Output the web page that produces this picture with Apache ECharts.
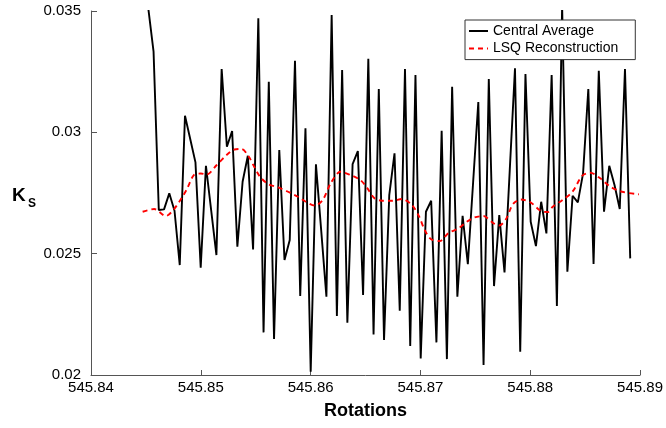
<!DOCTYPE html>
<html>
<head>
<meta charset="utf-8">
<script src="https://cdn.jsdelivr.net/npm/echarts@6/dist/echarts.min.js"></script>
<style>html,body{margin:0;padding:0;background:#fff}#c{width:666px;height:428px}</style>
</head>
<body>
<div id="c"></div>
<script>
const xTicks = [545.84, 545.85, 545.86, 545.87, 545.88, 545.89];
const yTicks = [0.02, 0.025, 0.03, 0.035];
const seriesNames = ['Central Average', 'LSQ Reconstruction'];

const rotations = [
545.84522, 545.845697, 545.846174, 545.846651, 545.847128, 545.847605, 545.848082, 545.848559, 545.849036, 545.849513,
545.84999, 545.850467, 545.850944, 545.851421, 545.851898, 545.852375, 545.852852, 545.853329, 545.853806, 545.854283,
545.85476, 545.855237, 545.855714, 545.856191, 545.856668, 545.857145, 545.857622, 545.858099, 545.858576, 545.859053,
545.85953, 545.860007, 545.860484, 545.860961, 545.861438, 545.861915, 545.862392, 545.862869, 545.863346, 545.863823,
545.8643, 545.864777, 545.865254, 545.865731, 545.866208, 545.866685, 545.867162, 545.867639, 545.868116, 545.868593,
545.86907, 545.869547, 545.870024, 545.870501, 545.870978, 545.871455, 545.871932, 545.872409, 545.872886, 545.873363,
545.87384, 545.874317, 545.874794, 545.875271, 545.875748, 545.876225, 545.876702, 545.877179, 545.877656, 545.878133,
545.87861, 545.879087, 545.879564, 545.880041, 545.880518, 545.880995, 545.881472, 545.881949, 545.882426, 545.882903,
545.88338, 545.883857, 545.884334, 545.884811, 545.885288, 545.885765, 545.886242, 545.886719, 545.887196, 545.887673,
545.88815, 545.888627, 545.889104
];
const centralAverage = [
0.0351, 0.033322, 0.026797, 0.026826, 0.027486, 0.026768, 0.02453, 0.030684, 0.029724, 0.028763,
0.024419, 0.028623, 0.026785, 0.024942, 0.032609, 0.029406, 0.030054, 0.025284, 0.027964, 0.029035,
0.025177, 0.034699, 0.021756, 0.032086, 0.02148, 0.02927, 0.024736, 0.025561, 0.032951, 0.023252,
0.030165, 0.020132, 0.028681, 0.025973, 0.023223, 0.034835, 0.022428, 0.032568, 0.022152, 0.028693,
0.029229, 0.023294, 0.033034, 0.021673, 0.031785, 0.021439, 0.027416, 0.029134, 0.022646, 0.032609,
0.021191, 0.032362, 0.020684, 0.026727, 0.027181, 0.021344, 0.030066, 0.020655, 0.03188, 0.023223,
0.026562, 0.024571, 0.02791, 0.031249, 0.020408, 0.032197, 0.023664, 0.026591, 0.024229, 0.028434,
0.032638, 0.020956, 0.032403, 0.026315, 0.025313, 0.027139, 0.025837, 0.032362, 0.02284, 0.0352,
0.024254, 0.027387, 0.027114, 0.02831, 0.031785, 0.024571, 0.032539, 0.026727, 0.028623, 0.027828,
0.026838, 0.032609, 0.024806
];
const lsqRotations = [
545.844702, 545.845758, 545.846814, 545.847563, 545.848195, 545.848736, 545.849368, 545.85, 545.850542, 545.851444,
545.852347, 545.853069, 545.8537, 545.854332, 545.854874, 545.855415, 545.856137, 545.85704, 545.857942, 545.858845,
545.859567, 545.860379, 545.861101, 545.861823, 545.862726, 545.863628, 545.864531, 545.865162, 545.865794, 545.866516,
545.867419, 545.868321, 545.869224, 545.869856, 545.870397, 545.870939, 545.871751, 545.872563, 545.873466, 545.874188,
545.87491, 545.875722, 545.876625, 545.877166, 545.877798, 545.87843, 545.879152, 545.880054, 545.880957, 545.881588,
545.88204, 545.882942, 545.883845, 545.884747, 545.88547, 545.886372, 545.887274, 545.888357, 545.889892
];
const lsqValues = [
0.026727, 0.026838, 0.02655, 0.026838, 0.027251, 0.027663, 0.02824, 0.028302, 0.028261, 0.028652,
0.029064, 0.029291, 0.029312, 0.029023, 0.02857, 0.028157, 0.027869, 0.027733, 0.027551, 0.027345,
0.027139, 0.026983, 0.027209, 0.027898, 0.028376, 0.02824, 0.028034, 0.027704, 0.027292, 0.027181,
0.027181, 0.027251, 0.027003, 0.02655, 0.025973, 0.025602, 0.025519, 0.025849, 0.026043, 0.026303,
0.026488, 0.02655, 0.026261, 0.026158, 0.026426, 0.027045, 0.02723, 0.027106, 0.026756, 0.026715,
0.026933, 0.027209, 0.027551, 0.028219, 0.028335, 0.028104, 0.027766, 0.027551, 0.027444
];

const FONT = '"Liberation Sans", Arial, Helvetica, sans-serif';
const axisCol = '#555';
const chart = echarts.init(document.getElementById('c'), null, {renderer: 'canvas'});
chart.setOption({
  backgroundColor: '#fff',
  animation: false,
  grid: {left: 91, right: 21, top: 11, bottom: 53, containLabel: false},
  legend: {
    orient: 'vertical', left: 465, top: 20,
    padding: [4, 17, 4, 3], itemGap: 3.6, itemWidth: 19, itemHeight: 14,
    backgroundColor: '#fff', borderColor: '#333', borderWidth: 1, borderRadius: 0,
    itemStyle: {opacity: 0, borderWidth: 0},
    textStyle: {fontFamily: FONT, fontSize: 14, color: '#000'},
    data: seriesNames
  },
  xAxis: {
    type: 'value', min: xTicks[0], max: xTicks[xTicks.length - 1], interval: 0.01,
    name: 'Rotations', nameLocation: 'middle', nameGap: 27,
    nameTextStyle: {fontFamily: FONT, fontSize: 18, fontWeight: 'bold', color: '#000'},
    axisLine: {show: true, lineStyle: {color: axisCol, width: 1}},
    axisTick: {show: true, inside: true, length: 5, lineStyle: {color: axisCol}},
    axisLabel: {fontFamily: FONT, fontSize: 15, color: '#000', margin: 5,
      formatter: v => v.toFixed(2)},
    splitLine: {show: false}
  },
  yAxis: {
    type: 'value', min: yTicks[0], max: yTicks[yTicks.length - 1], interval: 0.005,
    axisLine: {show: true, lineStyle: {color: axisCol, width: 1}},
    axisTick: {show: true, inside: true, length: 6, lineStyle: {color: axisCol}},
    axisLabel: {fontFamily: FONT, fontSize: 15, color: '#000', margin: 10,
      formatter: v => String(Number(v.toFixed(3)))},
    splitLine: {show: false}
  },
  graphic: [
    {type: 'text', left: 12, top: 186, style: {text: 'K', font: 'bold 19px ' + FONT, fill: '#000'}},
    {type: 'text', left: 28, top: 198, style: {text: 'S', font: 'bold 12px ' + FONT, fill: '#000'}}
  ],
  series: [
    {
      name: seriesNames[0], type: 'line', symbol: 'none', showSymbol: false, clip: true,
      data: rotations.map((x, i) => [x, centralAverage[i]]),
      lineStyle: {color: '#000', width: 1.9}, itemStyle: {color: '#000'}, z: 2
    },
    {
      name: seriesNames[1], type: 'line', symbol: 'none', showSymbol: false, smooth: 0.3, clip: true,
      data: lsqRotations.map((x, i) => [x, lsqValues[i]]),
      lineStyle: {color: '#ff0000', width: 1.9, type: [5, 4]}, itemStyle: {color: '#ff0000'}, z: 3
    }
  ]
});
</script>
</body>
</html>
